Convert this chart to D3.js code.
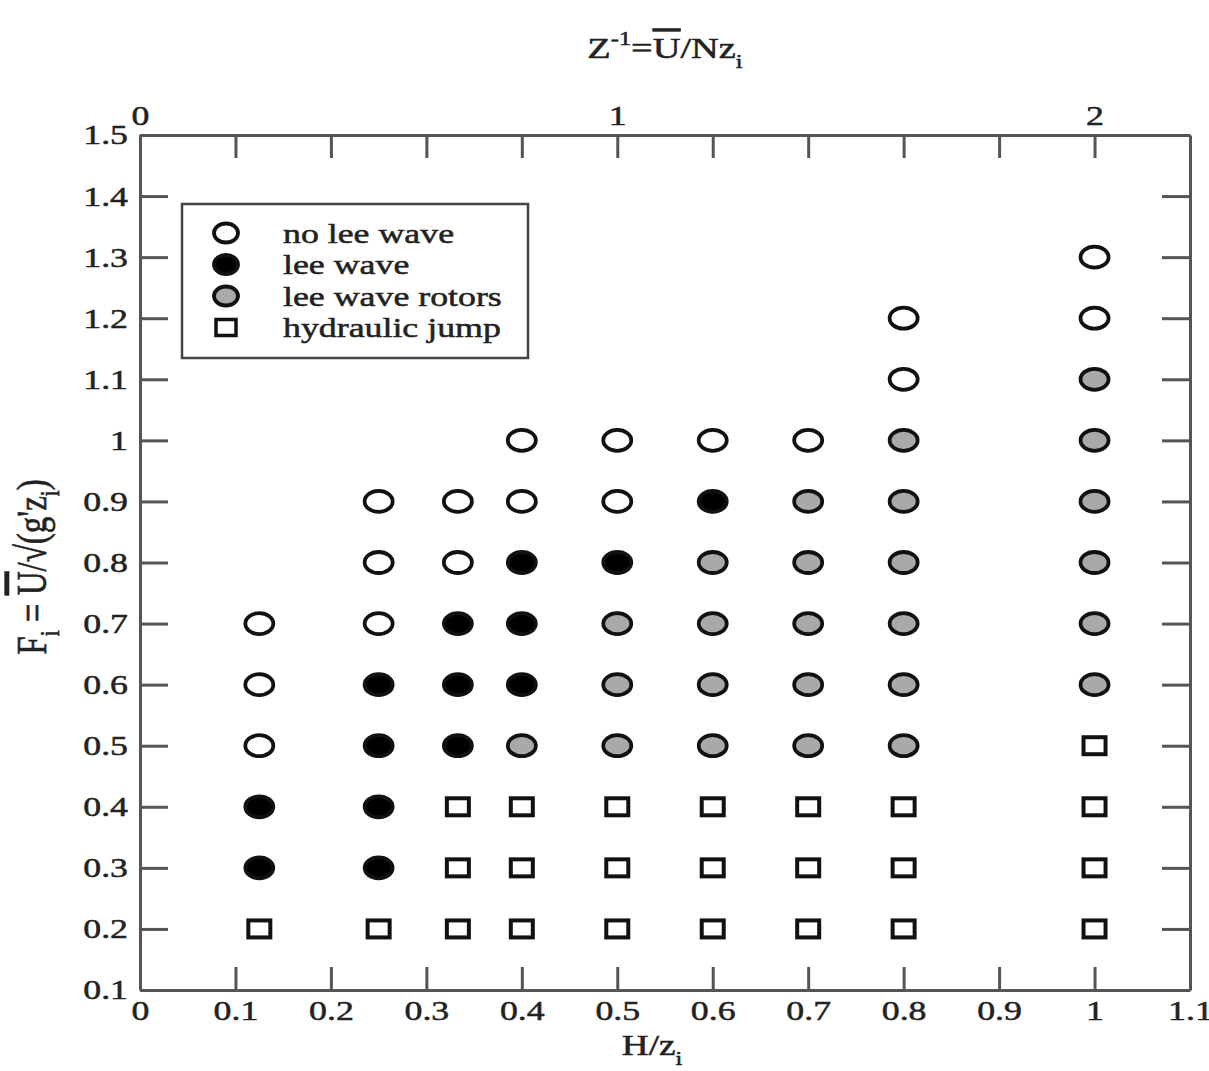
<!DOCTYPE html>
<html>
<head>
<meta charset="utf-8">
<script src="https://cdn.jsdelivr.net/npm/d3@7"></script>
<style>
  body { margin: 0; background: #fff; }
  svg text { font-family: "Liberation Serif", "DejaVu Serif", serif; fill: #222; stroke: #222; stroke-width: 0.5px; }
</style>
</head>
<body>
<svg id="chart"></svg>
<script>
// regime diagram, H/z_i against F_i

// points per regime: [H/z_i, F_i]
const noLeeWave = [
  [0.125, 0.7], [0.125, 0.6], [0.125, 0.5],
  [0.25, 0.9], [0.25, 0.8], [0.25, 0.7],
  [0.333, 0.9], [0.333, 0.8],
  [0.4, 1.0], [0.4, 0.9],
  [0.5, 1.0], [0.5, 0.9],
  [0.6, 1.0],
  [0.7, 1.0],
  [0.8, 1.2], [0.8, 1.1],
  [1.0, 1.3], [1.0, 1.2]
];
const leeWave = [
  [0.125, 0.4], [0.125, 0.3],
  [0.25, 0.6], [0.25, 0.5], [0.25, 0.4], [0.25, 0.3],
  [0.333, 0.7], [0.333, 0.6], [0.333, 0.5],
  [0.4, 0.8], [0.4, 0.7], [0.4, 0.6],
  [0.5, 0.8],
  [0.6, 0.9]
];
const leeWaveRotors = [
  [0.4, 0.5],
  [0.5, 0.7], [0.5, 0.6], [0.5, 0.5],
  [0.6, 0.8], [0.6, 0.7], [0.6, 0.6], [0.6, 0.5],
  [0.7, 0.9], [0.7, 0.8], [0.7, 0.7], [0.7, 0.6], [0.7, 0.5],
  [0.8, 1.0], [0.8, 0.9], [0.8, 0.8], [0.8, 0.7], [0.8, 0.6], [0.8, 0.5],
  [1.0, 1.1], [1.0, 1.0], [1.0, 0.9], [1.0, 0.8], [1.0, 0.7], [1.0, 0.6]
];
const hydraulicJump = [
  [0.125, 0.2],
  [0.25, 0.2],
  [0.333, 0.4], [0.333, 0.3], [0.333, 0.2],
  [0.4, 0.4], [0.4, 0.3], [0.4, 0.2],
  [0.5, 0.4], [0.5, 0.3], [0.5, 0.2],
  [0.6, 0.4], [0.6, 0.3], [0.6, 0.2],
  [0.7, 0.4], [0.7, 0.3], [0.7, 0.2],
  [0.8, 0.4], [0.8, 0.3], [0.8, 0.2],
  [1.0, 0.5], [1.0, 0.4], [1.0, 0.3], [1.0, 0.2]
];

const xTicks = [0, 0.1, 0.2, 0.3, 0.4, 0.5, 0.6, 0.7, 0.8, 0.9, 1.0, 1.1];
const xTickLabels = ["0", "0.1", "0.2", "0.3", "0.4", "0.5", "0.6", "0.7", "0.8", "0.9", "1", "1.1"];
const yTicks = [0.1, 0.2, 0.3, 0.4, 0.5, 0.6, 0.7, 0.8, 0.9, 1.0, 1.1, 1.2, 1.3, 1.4, 1.5];
const yTickLabels = ["0.1", "0.2", "0.3", "0.4", "0.5", "0.6", "0.7", "0.8", "0.9", "1", "1.1", "1.2", "1.3", "1.4", "1.5"];
const topTicks = [0, 0.2, 0.4, 0.6, 0.8, 1.0, 1.2, 1.4, 1.6, 1.8, 2.0];
const topTickLabels = ["0", "", "", "", "", "1", "", "", "", "", "2"];

const legendNames = ["no lee wave", "lee wave", "lee wave rotors", "hydraulic jump"];

const wsvg = 1209;
const hsvg = 1071;
const padLeft = 140, padRight = 1190, padTop = 135, padBottom = 990;
const sx = 1.28; // the picture is a bit wide, so stretch text sideways
const fontSize = 28;
const axisColor = "#555";

const svg = d3.select("#chart")
  .attr("width", wsvg)
  .attr("height", hsvg)
  .attr("viewBox", `0 0 ${wsvg} ${hsvg}`);

const xScale = d3.scaleLinear([0, 1.1], [padLeft, padRight]);
const yScale = d3.scaleLinear([0.1, 1.5], [padBottom, padTop]);
const xTopScale = d3.scaleLinear([0, 2.2], [padLeft, padRight]);

function styleAxis(g) {
  g.select(".domain").attr("stroke", axisColor).attr("stroke-width", 3);
  g.selectAll(".tick line").attr("stroke", axisColor).attr("stroke-width", 3);
  g.selectAll(".tick text")
    .attr("font-size", fontSize)
    .attr("font-family", "Liberation Serif, serif")
    .attr("fill", "#222");
}

// bottom
const xAxis = d3.axisBottom(xScale)
  .tickValues(xTicks)
  .tickFormat((d, i) => xTickLabels[i])
  .tickSizeInner(-23).tickSizeOuter(0).tickPadding(10);
svg.append("g")
  .attr("transform", `translate(0, ${padBottom})`)
  .call(xAxis)
  .call(styleAxis)
  .selectAll(".tick text")
  .attr("transform", `scale(${sx},1)`);

// top
const topAxis = d3.axisTop(xTopScale)
  .tickValues(topTicks)
  .tickFormat((d, i) => topTickLabels[i])
  .tickSizeInner(-23).tickSizeOuter(0).tickPadding(10);
svg.append("g")
  .attr("transform", `translate(0, ${padTop})`)
  .call(topAxis)
  .call(styleAxis)
  .selectAll(".tick text")
  .attr("transform", `scale(${sx},1)`);

// left
const yAxis = d3.axisLeft(yScale)
  .tickValues(yTicks)
  .tickFormat((d, i) => yTickLabels[i])
  .tickSizeInner(-28).tickSizeOuter(0).tickPadding(12);
svg.append("g")
  .attr("transform", `translate(${padLeft}, 0)`)
  .call(yAxis)
  .call(styleAxis)
  .selectAll(".tick text")
  .attr("x", -12 / sx)
  .attr("transform", `scale(${sx},1)`);

// right
const yAxisRight = d3.axisRight(yScale)
  .tickValues(yTicks)
  .tickFormat("")
  .tickSizeInner(-28).tickSizeOuter(0);
svg.append("g")
  .attr("transform", `translate(${padRight}, 0)`)
  .call(yAxisRight)
  .call(styleAxis);

// markers
function drawCircles(data, fill) {
  svg.append("g").selectAll("ellipse")
    .data(data)
    .join("ellipse")
    .attr("cx", d => xScale(d[0]))
    .attr("cy", d => yScale(d[1]))
    .attr("rx", 14)
    .attr("ry", 10.5)
    .attr("fill", fill)
    .attr("stroke", "#111")
    .attr("stroke-width", 3.8);
}

drawCircles(noLeeWave, "#fff");
drawCircles(leeWave, "#000");
drawCircles(leeWaveRotors, "#a9a9a9");

svg.append("g").selectAll("rect")
  .data(hydraulicJump)
  .join("rect")
  .attr("x", d => xScale(d[0]) - 11)
  .attr("y", d => yScale(d[1]) - 8.5)
  .attr("width", 22)
  .attr("height", 17)
  .attr("fill", "#fff")
  .attr("stroke", "#111")
  .attr("stroke-width", 4);

// legend
const legend = svg.append("g");
legend.append("rect")
  .attr("x", 182).attr("y", 204)
  .attr("width", 346).attr("height", 154)
  .attr("fill", "#fff")
  .attr("stroke", "#444")
  .attr("stroke-width", 2.5);

const legendFills = ["#fff", "#000", "#a9a9a9", null];
legendNames.forEach((name, i) => {
  const ly = 233 + i * 31.5;
  if (legendFills[i] !== null) {
    legend.append("ellipse")
      .attr("cx", 226).attr("cy", ly)
      .attr("rx", 12).attr("ry", 9.5)
      .attr("fill", legendFills[i])
      .attr("stroke", "#111")
      .attr("stroke-width", 3.8);
  } else {
    legend.append("rect")
      .attr("x", 216).attr("y", ly - 8)
      .attr("width", 20).attr("height", 16)
      .attr("fill", "#fff")
      .attr("stroke", "#111")
      .attr("stroke-width", 3.5);
  }
  legend.append("text")
    .attr("transform", `translate(283, ${ly}) scale(${sx},1)`)
    .attr("dy", "0.35em")
    .attr("font-size", fontSize)
    .text(name);
});

// axis titles
const title = svg.append("text")
  .attr("transform", `translate(665, 58) scale(${sx},1)`)
  .attr("text-anchor", "middle")
  .attr("font-size", 30);
title.append("tspan").text("Z");
title.append("tspan").attr("dy", -13).attr("font-size", 19).text("-1");
title.append("tspan").attr("dy", 13).text("=");
title.append("tspan").style("text-decoration", "overline").text("U");
title.append("tspan").text("/Nz");
title.append("tspan").attr("dy", 10).attr("font-size", 19).text("i");

const xTitle = svg.append("text")
  .attr("transform", `translate(652, 1055) scale(${sx},1)`)
  .attr("text-anchor", "middle")
  .attr("font-size", 29);
xTitle.append("tspan").text("H/z");
xTitle.append("tspan").attr("dy", 10).attr("font-size", 19).text("i");

const yTitle = svg.append("text")
  .attr("transform", `translate(46, 567) rotate(-90) scale(1,${sx})`)
  .attr("text-anchor", "middle")
  .attr("font-size", 33);
yTitle.append("tspan").text("F");
yTitle.append("tspan").attr("dy", 10).attr("font-size", 21).text("i");
yTitle.append("tspan").attr("dy", -10).text(" = ");
yTitle.append("tspan").style("text-decoration", "overline").text("U");
yTitle.append("tspan").text("/√(g'z");
yTitle.append("tspan").attr("dy", 10).attr("font-size", 21).text("i");
yTitle.append("tspan").attr("dy", -10).text(")");
</script>
</body>
</html>
